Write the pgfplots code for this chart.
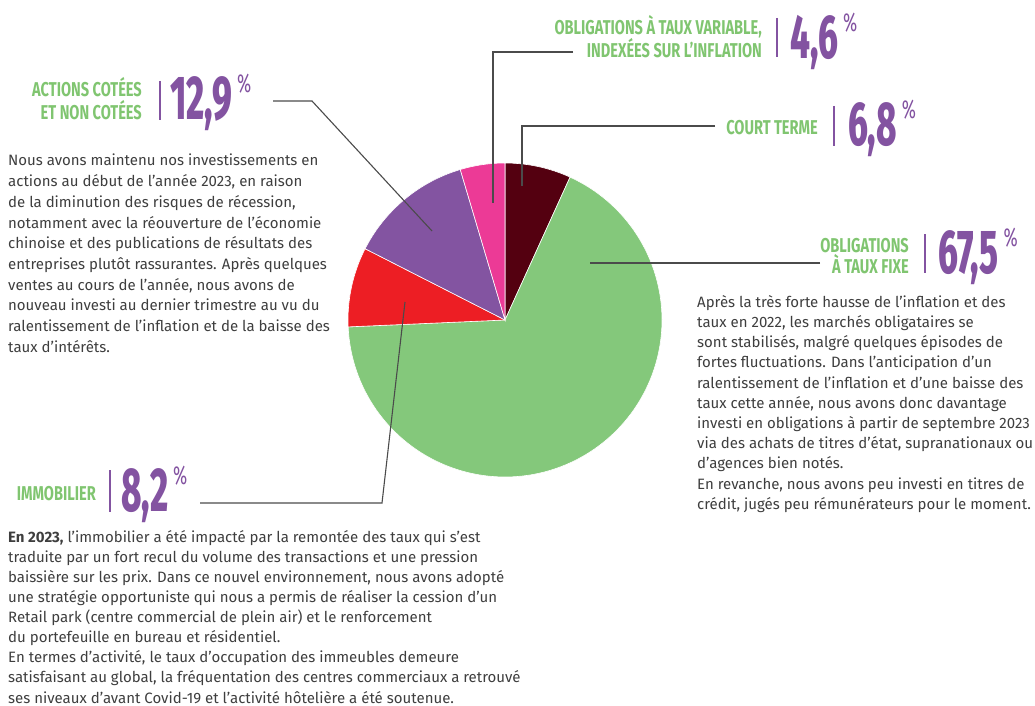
\documentclass[border=0pt]{standalone}
\usepackage{pgfplots}
\pgfplotsset{compat=1.18}
\usepackage{fontspec}
\setmainfont{Fira Sans}
\newfontfamily\condlab{Fira Sans}[FakeStretch=0.73]
\newfontfamily\condnum{Fira Sans}[UprightFont=* ExtraBold, FakeStretch=0.56]
\newfontfamily\condpct{Fira Sans}[FakeStretch=0.66]
\definecolor{cDark}{RGB}{84,0,16}
\definecolor{cGreen}{RGB}{132,200,123}
\definecolor{cRed}{RGB}{237,30,36}
\definecolor{cPurple}{RGB}{131,84,161}
\definecolor{cPink}{RGB}{236,58,150}
\definecolor{cLab}{RGB}{128,197,112}
\definecolor{cNum}{RGB}{131,83,161}
\definecolor{cBody}{RGB}{62,62,62}
\definecolor{cLead}{RGB}{75,75,75}
% slice values (percent), clockwise from 12 o'clock
\def\vCourt{6.8}
\def\vFixe{67.5}
\def\vImmo{8.2}
\def\vActions{12.9}
\def\vVariable{4.6}
\pgfmathsetmacro\aA{90}
\pgfmathsetmacro\aB{\aA-3.6*\vCourt}
\pgfmathsetmacro\aC{\aB-3.6*\vFixe}
\pgfmathsetmacro\aD{\aC-3.6*\vImmo}
\pgfmathsetmacro\aE{\aD-3.6*\vActions}
\pgfmathsetmacro\aF{\aE-3.6*\vVariable}
\def\cx{505}\def\cy{320}\def\rr{157}
\newcommand\lab[3]{\node[anchor=base east, inner sep=0, text=cLab, font={\condlab\bfseries\fontsize{20}{20}\selectfont}] at (axis cs:#1,#2) {#3};}
\newcommand\bignum[3]{\node[anchor=base west, inner sep=0, text=cNum] at (axis cs:#1,#2) {{\condnum\fontsize{62}{62}\selectfont #3}\hspace{5pt}\raisebox{27pt}{\condpct\fontsize{26}{26}\selectfont\%}};}
\newcommand\vbar[3]{\draw[cNum, line width=1.4pt] (axis cs:#1,#2) -- (axis cs:#1,#3);}
\begin{document}
\begin{tikzpicture}
\begin{axis}[scale only axis, width=1035pt, height=706pt,
  xmin=0, xmax=1035, ymin=0, ymax=706, y dir=reverse,
  hide axis, clip=false]
\addplot[fill=cDark, draw=white, line width=0.6pt, domain=\aB:\aA, samples=40, variable=\t]
  ({\cx+\rr*cos(\t)}, {\cy-\rr*sin(\t)}) -- (axis cs:\cx,\cy) -- cycle;
\addplot[fill=cGreen, draw=white, line width=0.6pt, domain=\aC:\aB, samples=120, variable=\t]
  ({\cx+\rr*cos(\t)}, {\cy-\rr*sin(\t)}) -- (axis cs:\cx,\cy) -- cycle;
\addplot[fill=cRed, draw=white, line width=0.6pt, domain=\aD:\aC, samples=40, variable=\t]
  ({\cx+\rr*cos(\t)}, {\cy-\rr*sin(\t)}) -- (axis cs:\cx,\cy) -- cycle;
\addplot[fill=cPurple, draw=white, line width=0.6pt, domain=\aE:\aD, samples=40, variable=\t]
  ({\cx+\rr*cos(\t)}, {\cy-\rr*sin(\t)}) -- (axis cs:\cx,\cy) -- cycle;
\addplot[fill=cPink, draw=white, line width=0.6pt, domain=\aF:\aE, samples=40, variable=\t]
  ({\cx+\rr*cos(\t)}, {\cy-\rr*sin(\t)}) -- (axis cs:\cx,\cy) -- cycle;
% leader lines
\draw[cLead, line width=1.1pt] (axis cs:273,101) -- (axis cs:312,101) -- (axis cs:432,231);
\draw[cLead, line width=1.1pt] (axis cs:573,52) -- (axis cs:493,52) -- (axis cs:493,203);
\draw[cLead, line width=1.1pt] (axis cs:715,126) -- (axis cs:522,126) -- (axis cs:522,186);
\draw[cLead, line width=1.1pt] (axis cs:820,263) -- (axis cs:590,263);
\draw[cLead, line width=1.1pt] (axis cs:200,503) -- (axis cs:382,503) -- (axis cs:405,302);
% labels
\lab{142}{97}{ACTIONS COTÉES}
\lab{142}{120}{ET NON COTÉES}
\vbar{160}{81}{120}
\bignum{170}{120}{12,9}
\lab{762}{35}{OBLIGATIONS À TAUX VARIABLE,}
\lab{762}{58}{INDEXÉES SUR L’INFLATION}
\vbar{777}{18}{57}
\bignum{790}{59}{4,6}
\lab{818}{135}{COURT TERME}
\vbar{834}{106}{146}
\bignum{848}{145}{6,8}
\lab{909}{252}{OBLIGATIONS}
\lab{909}{273}{À TAUX FIXE}
\vbar{925}{234}{273}
\bignum{938}{273}{67,5}
\lab{96}{500}{IMMOBILIER}
\vbar{110}{470}{512}
\bignum{121}{511}{8,2}
% body texts
\node[anchor=north west, inner sep=0, align=left, text=cBody, font={\fontsize{15}{20.7}\selectfont}] at (axis cs:8,154) {Nous avons maintenu nos investissements en\\
actions au début de l’année 2023, en raison\\
de la diminution des risques de récession,\\
notamment avec la réouverture de l’économie\\
chinoise et des publications de résultats des\\
entreprises plutôt rassurantes. Après quelques\\
ventes au cours de l’année, nous avons de\\
nouveau investi au dernier trimestre au vu du\\
ralentissement de l’inflation et de la baisse des\\
taux d’intérêts.};
\node[anchor=north west, inner sep=0, align=left, text=cBody, font={\fontsize{15}{20.2}\selectfont}] at (axis cs:697,295) {Après la très forte hausse de l’inflation et des\\
taux en 2022, les marchés obligataires se\\
sont stabilisés, malgré quelques épisodes de\\
fortes fluctuations. Dans l’anticipation d’un\\
ralentissement de l’inflation et d’une baisse des\\
taux cette année, nous avons donc davantage\\
investi en obligations à partir de septembre 2023\\
via des achats de titres d’état, supranationaux ou\\
d’agences bien notés.\\
En revanche, nous avons peu investi en titres de\\
crédit, jugés peu rémunérateurs pour le moment.};
\node[anchor=north west, inner sep=0, align=left, text=cBody, font={\fontsize{15}{20.1}\selectfont}] at (axis cs:8,530) {\textbf{En 2023,} l’immobilier a été impacté par la remontée des taux qui s’est\\
traduite par un fort recul du volume des transactions et une pression\\
baissière sur les prix. Dans ce nouvel environnement, nous avons adopté\\
une stratégie opportuniste qui nous a permis de réaliser la cession d’un\\
Retail park (centre commercial de plein air) et le renforcement\\
du portefeuille en bureau et résidentiel.\\
En termes d’activité, le taux d’occupation des immeubles demeure\\
satisfaisant au global, la fréquentation des centres commerciaux a retrouvé\\
ses niveaux d’avant Covid-19 et l’activité hôtelière a été soutenue.};
\end{axis}
\pgfresetboundingbox
\path (current axis.south west) rectangle (current axis.north east);
\end{tikzpicture}
\end{document}
